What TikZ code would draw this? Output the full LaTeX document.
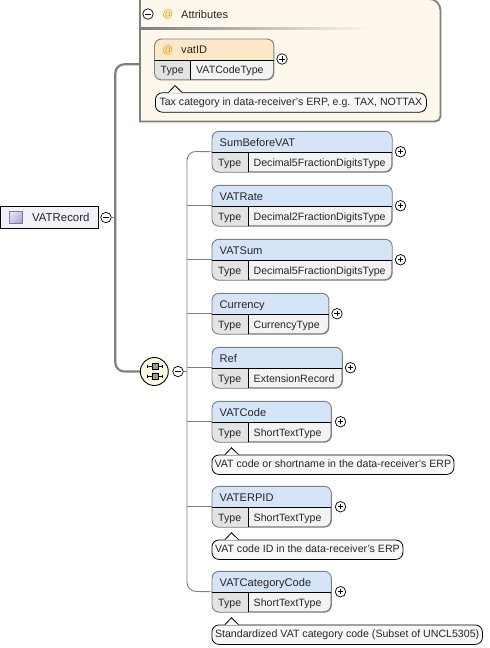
\documentclass[tikz,border=0pt]{standalone}
\usepackage{fontspec}
\setmainfont{Liberation Sans}
\usetikzlibrary{positioning,calc,shadings}
\definecolor{headblue}{HTML}{D6E4F7}
\definecolor{headorange}{HTML}{FDE9C8}
\definecolor{typegray}{HTML}{E3E3E3}
\definecolor{valuegray}{HTML}{F3F3F3}
\definecolor{framegray}{HTML}{7F7F7F}
\definecolor{attrfill}{HTML}{FDF7EC}
\definecolor{rootfill}{HTML}{F4F0F9}
\definecolor{seqfill}{HTML}{FBFBE2}
\definecolor{textgray}{HTML}{262626}
\definecolor{iconlight}{HTML}{ECE8F7}
\definecolor{iconmid}{HTML}{CFC6EA}
\definecolor{icondark}{HTML}{A797D6}
\tikzset{
  lbl/.style={font=\fontsize{10.6}{12}\selectfont, text=textgray, inner sep=0pt, text height=8, text depth=2.5},
  namelbl/.style={lbl, font=\fontsize{11.1}{12}\selectfont},
  cellbox/.style={rectangle, draw=framegray, fill=valuegray, rounded corners=7, line width=0.9pt, minimum height=40, inner sep=0pt, anchor=north west},
  notebox/.style={rectangle, draw=black, fill=white!97!black, rounded corners=7, line width=0.8pt, minimum height=19.4, inner sep=0pt, anchor=north west, lbl, text height=9},
  plusbtn/.style={circle, draw=black, fill=white, line width=0.7pt, minimum size=10.5, inner sep=0pt,
    path picture={\draw[line width=0.7pt] ($(path picture bounding box.center)+(-2.6,0)$) -- ($(path picture bounding box.center)+(2.6,0)$)
      ($(path picture bounding box.center)+(0,-2.6)$) -- ($(path picture bounding box.center)+(0,2.6)$);}},
  minusbtn/.style={circle, draw=black, fill=white, line width=0.7pt, minimum size=10.5, inner sep=0pt,
    path picture={\draw[line width=0.7pt] ($(path picture bounding box.center)+(-2.6,0)$) -- ($(path picture bounding box.center)+(2.6,0)$);}},
  wire/.style={draw=framegray, line width=0.9pt},
  bus/.style={draw=framegray, line width=2.2pt}
}
\newcommand{\typedcell}[8][7.5]{% name offset, id, x, top, width, name, type, head colour
  \node[cellbox, minimum width=#5] (#2) at (#3,#4) {};
  \fill[#8, rounded corners=7] ($(#2.west)+(0,1)$) -- (#2.north west) -- (#2.north east) [sharp corners] -- ($(#2.east)+(0,1)$) -- cycle;
  \fill[typegray, rounded corners=7] ($(#2.west)+(0,1)$) -- (#2.south west) [sharp corners] -- ($(#2.south west)+(36,0)$) -- ($(#2.west)+(36,1)$) -- cycle;
  \draw[framegray, line width=0.9pt, rounded corners=7] (#2.north west) rectangle (#2.south east);
  \draw[black, line width=0.8pt] ($(#2.west)+(0,1)$) -- ($(#2.east)+(0,1)$) ($(#2.west)+(36,1)$) -- ($(#2.south west)+(36,0)$);
  \node[namelbl, right=#1 of #2.west, yshift=8.4] (#2name) {#6};
  \node[lbl, right=6 of #2.west, yshift=-11.5] (#2type) {Type};
  \node[lbl, right=41.5 of #2.west, yshift=-11.5] (#2value) {#7};
}
\newcommand{\notetip}[1]{% id
  \fill[white!97!black] ($(#1.north west)+(13.5,0.6)$) -- ($(#1.north west)+(20,-6.8)$) -- ($(#1.north west)+(27,0.6)$) -- cycle;
  \draw[black, line width=0.8pt] ($(#1.north west)+(13.5,0)$) -- ($(#1.north west)+(20,-6.8)$) -- ($(#1.north west)+(27,0)$);
}
\begin{document}
\begin{tikzpicture}[x=1pt, y=-1pt]
  \useasboundingbox (0,0) rectangle (490,648);
  % attributes group
  \node[rectangle, minimum width=300, minimum height=122, inner sep=0pt, anchor=north west] (attrs) at (140,-1) {};
  \draw[framegray, fill=attrfill, line width=1.8pt] (attrs.north west) [rounded corners=11] -- (attrs.north east) [rounded corners=5] -- (attrs.south east) [sharp corners] -- (attrs.south west) -- cycle;
  \shade[left color=framegray, right color=attrfill] (141,27) rectangle (370,29);
  \node[minusbtn] (attrminus) at (148,14) {};
  \node[lbl, text=orange!85!yellow] (attrat) at (168,15) {@};
  \node[namelbl, anchor=west] (attrlbl) at (181,15.5) {Attributes};

  \typedcell[26.5]{vatid}{154.5}{39}{118.5}{vatID}{VATCodeType}{headorange}
  \node[lbl, text=orange!85!yellow] (vatidat) at (168,50.5) {@};
  \node[plusbtn] (vatidplus) at (282,59) {};
  \node[notebox, minimum width=271] (vatidnote) at (155,92.4) {Tax category in data-receiver's ERP, e.g. TAX, NOTTAX};
  \notetip{vatidnote}

  % root
  \node[rectangle, draw=black, fill=rootfill, line width=0.9pt, minimum width=98, minimum height=22, inner sep=0pt, anchor=north west] (root) at (0,206.3) {};
  \shade[upper left=iconlight, lower right=icondark, upper right=iconmid, lower left=iconmid] (9.5,211) rectangle (22,223.5);
  \draw[framegray, line width=0.5pt] (9.5,211) rectangle (22,223.5);
  \node[namelbl, font=\fontsize{11.4}{12}\selectfont, anchor=west] (rootlbl) at (32,219) {VATRecord};
  \node[minusbtn] (rootminus) at (106,217.5) {};

  % sequence
  \node[circle, draw=black, fill=seqfill, line width=0.9pt, minimum size=28, inner sep=0pt] (seq) at (154.3,371.5) {};
  \draw[black, line width=0.6pt] (147,365) -- (147,368.4) (147,366.7) -- (162,366.7) (162,365) -- (162,368.4)
    (147,374.5) -- (147,377.9) (147,376.2) -- (162,376.2) (162,374.5) -- (162,377.9);
  \fill[gray!80] (151.8,363.2) rectangle (157.8,369.6) (151.8,372.9) rectangle (157.8,379.3);
  \draw[black, line width=0.4pt] (151.8,363.2) rectangle (157.8,369.6) (151.8,372.9) rectangle (157.8,379.3);
  \node[minusbtn] (seqminus) at (178,371.5) {};

  \typedcell{sum}{212}{131.3}{179.3}{SumBeforeVAT}{Decimal5FractionDigitsType}{headblue}
  \typedcell{rate}{212}{185.3}{179.3}{VATRate}{Decimal2FractionDigitsType}{headblue}
  \typedcell{vatsum}{212}{239.3}{179.3}{VATSum}{Decimal5FractionDigitsType}{headblue}
  \typedcell{currency}{212}{293.3}{116}{Currency}{CurrencyType}{headblue}
  \typedcell{ref}{212}{347.3}{129.5}{Ref}{ExtensionRecord}{headblue}
  \typedcell{code}{212}{401.3}{118.5}{VATCode}{ShortTextType}{headblue}
  \typedcell{erpid}{212}{486.3}{118.5}{VATERPID}{ShortTextType}{headblue}
  \typedcell{catcode}{212}{571.3}{118.5}{VATCategoryCode}{ShortTextType}{headblue}

  \foreach \elem/\px in {sum/400.5, rate/400.5, vatsum/400.5, currency/337, ref/350.5, code/340.5, erpid/340.5, catcode/340.5}
    \node[plusbtn] (\elem plus) at (\px,0 |- \elem.east) {};

  \node[notebox, minimum width=242] (codenote) at (211.5,454.6) {VAT code or shortname in the data-receiver's ERP};
  \notetip{codenote}
  \node[notebox, minimum width=191] (erpidnote) at (211.5,539.6) {VAT code ID in the data-receiver's ERP};
  \notetip{erpidnote}
  \node[notebox, minimum width=270.5] (catcodenote) at (211.5,624.6) {Standardized VAT category code (Subset of UNCL5305)};
  \notetip{catcodenote}

  % connectors
  \coordinate (trunk) at (115.3,217.5);
  \coordinate (trunktop) at (115.3,64.3);
  \coordinate (trunkbot) at (115.3,371.5);
  \coordinate (railtop) at (187,151.3);
  \coordinate (railbot) at (187,591.3);
  \draw[bus, rounded corners=9] (attrs.west |- trunktop) -- (trunktop) -- (trunkbot) -- (seq.west);
  \draw[wire] (rootminus.east) -- (trunk);
  \draw[wire, rounded corners=9] (sum.west) -- (railtop) -- (railbot) -- (catcode.west);
  \foreach \elem in {rate, vatsum, currency, ref, code, erpid}
    \draw[wire] (\elem.west) -- (\elem.west -| railtop);
  \draw[wire] (seqminus.east) -- (seqminus.east -| railtop);
\end{tikzpicture}
\end{document}
